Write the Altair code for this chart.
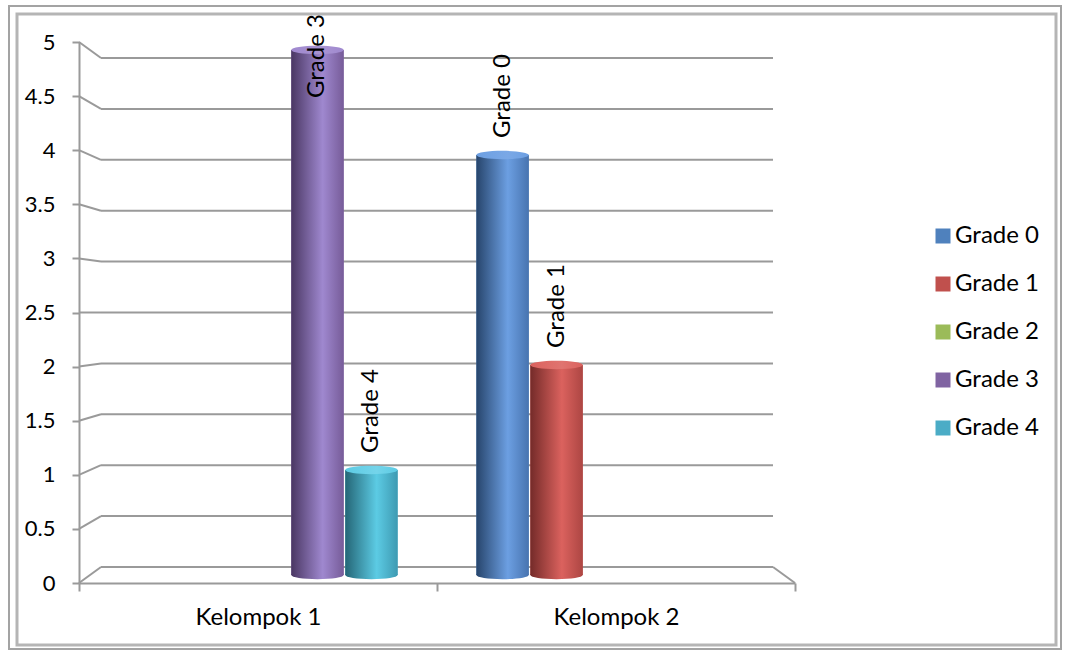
import altair as alt
import pandas as pd

# ---- data -------------------------------------------------------------
CATEGORIES = ["Kelompok 1", "Kelompok 2"]
GRADES = ["Grade 0", "Grade 1", "Grade 2", "Grade 3", "Grade 4"]
# one list per series, one entry per category (None = empty cell)
GRADE_0 = [None, 4]
GRADE_1 = [None, 2]
GRADE_2 = [None, None]
GRADE_3 = [5, None]
GRADE_4 = [1, None]
SERIES = [GRADE_0, GRADE_1, GRADE_2, GRADE_3, GRADE_4]
Y_TICKS = [0, 0.5, 1, 1.5, 2, 2.5, 3, 3.5, 4, 4.5, 5]

# ---- styling ----------------------------------------------------------
COLORS = ["#4F81BD", "#C0504D", "#9BBB59", "#8064A2", "#4BACC6"]
# cylinder shading per series: dark edge, light highlight, right edge, cap
SHADES = [
    ("#27456c", "#6c9fe2", "#4874b0", "#7aa8e6"),
    ("#742b29", "#db625e", "#ad4643", "#e07470"),
    ("#5b7530", "#b6d874", "#8aa84e", "#c0de84"),
    ("#4a3763", "#9f88cf", "#775c99", "#a994d2"),
    ("#256676", "#5ccbe4", "#3e9ab2", "#74d4ea"),
]
FONT = "Lato"
TEXT_SIZE = 24
GRID = "#9a9a9a"

PLOT_W, PLOT_H = 716, 541
DEPTH_X = 22                 # horizontal inset of the back wall
BACK_RANGE = [525, 16]       # back wall: pixel rows of 0 and 5
BAR_RANGE = [533, 8]         # mid depth (where the cylinders stand)
BAR_X_RANGE = [11, PLOT_W - 11]
OFF_INNER, OFF_OUTER = 0.03, 0.73
LABEL_CEIL = 4.38            # rotated labels stay inside the frame

Y_MAX = 5
front_px = PLOT_H / Y_MAX
back_lift = (PLOT_H - BACK_RANGE[0]) / front_px
back_scale = (BACK_RANGE[0] - BACK_RANGE[1]) / PLOT_H

band = (BAR_X_RANGE[1] - BAR_X_RANGE[0]) / len(CATEGORIES)
step = band / (len(GRADES) - OFF_INNER + 2 * OFF_OUTER)
BAR_W = step * (1 - OFF_INNER)
ELLIPSE = "M-1,0A1,0.16,0,1,1,1,0A1,0.16,0,1,1,-1,0Z"

rows = []
for g, vals in zip(GRADES, SERIES):
    for c, v in zip(CATEGORIES, vals):
        if v is not None:
            rows.append({"category": c, "grade": g, "value": v})
bars_df = pd.DataFrame(rows)
grid_df = pd.DataFrame({"v": Y_TICKS})
cat_df = pd.DataFrame({"category": CATEGORIES})
one = pd.DataFrame({"k": [0]})

Y_AXIS = alt.Axis(
    values=Y_TICKS, format="~g", title=None, grid=False,
    tickSize=7, tickColor=GRID, tickWidth=2,
    domainColor=GRID, domainWidth=2,
    labelFont=FONT, labelFontSize=22, labelColor="black", labelPadding=17,
)
Y_FRONT = alt.Scale(domain=[0, Y_MAX], nice=False, zero=True)

# ---- walls, floor and axes (front coordinates) ------------------------
grid_base = alt.Chart(grid_df).transform_calculate(
    vb=f"{back_lift} + datum.v * {back_scale}"
)
side = grid_base.mark_rule(color=GRID, strokeWidth=2).encode(
    x=alt.value(0), x2=alt.value(DEPTH_X),
    y=alt.Y("v:Q", scale=Y_FRONT, axis=Y_AXIS), y2="vb:Q",
)
wall = grid_base.mark_rule(color=GRID, strokeWidth=2).encode(
    x=alt.value(DEPTH_X), x2=alt.value(PLOT_W - DEPTH_X),
    y=alt.Y("vb:Q", scale=Y_FRONT, axis=Y_AXIS),
)
floor_edge = grid_base.transform_filter(alt.datum.v == 0).mark_rule(
    color=GRID, strokeWidth=2
).encode(
    x=alt.value(PLOT_W - DEPTH_X), x2=alt.value(PLOT_W),
    y=alt.Y("vb:Q", scale=Y_FRONT, axis=Y_AXIS), y2="v:Q",
)
x_axis = alt.Chart(cat_df).mark_rule(strokeOpacity=0).encode(
    x=alt.X(
        "category:N", sort=CATEGORIES,
        scale=alt.Scale(paddingInner=0, paddingOuter=0),
        axis=alt.Axis(
            title=None, labelAngle=0, tickBand="extent", tickSize=8,
            tickColor=GRID, tickWidth=2, domainColor=GRID, domainWidth=2,
            labelFont=FONT, labelFontSize=TEXT_SIZE, labelColor="black",
            labelPadding=14,
        ),
    )
)
frame_outer = alt.Chart(one).mark_rect(
    fillOpacity=0, stroke="#a3a3a3", strokeWidth=2
).encode(x=alt.value(-70), x2=alt.value(982), y=alt.value(-36), y2=alt.value(607))
frame_inner = alt.Chart(one).mark_rect(
    fillOpacity=0, stroke="#b5b5b5", strokeWidth=3
).encode(x=alt.value(-62), x2=alt.value(977), y=alt.value(-28), y2=alt.value(603))

front = alt.layer(frame_outer, frame_inner, side, wall, floor_edge, x_axis)

# ---- cylinders ---------------------------------------------------------
X_BAR = alt.X("category:N", sort=CATEGORIES,
              scale=alt.Scale(range=BAR_X_RANGE, paddingInner=0, paddingOuter=0),
              axis=None)
X_OFF = alt.XOffset("grade:N", sort=GRADES,
                    scale=alt.Scale(domain=GRADES, paddingInner=OFF_INNER,
                                    paddingOuter=OFF_OUTER))
Y_BAR = alt.Scale(domain=[0, Y_MAX], range=BAR_RANGE, nice=False)

base = alt.Chart(bars_df).transform_calculate(
    base="0", label_v=f"min(datum.value, {LABEL_CEIL})"
)

flat = base.mark_bar(strokeWidth=0).encode(
    x=X_BAR, xOffset=X_OFF,
    y=alt.Y("value:Q", scale=Y_BAR, axis=None), y2="base:Q",
    color=alt.Color(
        "grade:N",
        scale=alt.Scale(domain=GRADES, range=COLORS),
        legend=alt.Legend(
            orient="none", legendX=852, legendY=182, title=None,
            symbolType="square", symbolSize=225, symbolStrokeWidth=0,
            symbolOpacity=1, labelFont=FONT, labelFontSize=TEXT_SIZE,
            labelColor="black", rowPadding=24, labelOffset=0, padding=0,
        ),
    ),
)


def shade(dark, light, edge):
    return alt.Gradient(
        gradient="linear", x1=0, x2=1, y1=0, y2=0,
        stops=[
            alt.GradientStop(offset=0, color=dark),
            alt.GradientStop(offset=0.6, color=light),
            alt.GradientStop(offset=1, color=edge),
        ],
    )


layers = [flat]
for g, (dark, light, edge, cap) in zip(GRADES, SHADES):
    sub = base.transform_filter(alt.datum.grade == g)
    body_fill = shade(dark, light, edge)
    cap_fill = shade(light, cap, light)
    layers.append(
        sub.mark_point(shape=ELLIPSE, size=BAR_W ** 2, filled=True,
                       fill=body_fill, opacity=1, strokeWidth=0).encode(
            x=X_BAR, xOffset=X_OFF, y=alt.Y("base:Q", scale=Y_BAR, axis=None)
        )
    )
    layers.append(
        sub.mark_bar(fill=body_fill, strokeWidth=0).encode(
            x=X_BAR, xOffset=X_OFF,
            y=alt.Y("value:Q", scale=Y_BAR, axis=None), y2="base:Q",
        )
    )
    layers.append(
        sub.mark_point(shape=ELLIPSE, size=BAR_W ** 2, filled=True,
                       fill=cap_fill, opacity=1, strokeWidth=0).encode(
            x=X_BAR, xOffset=X_OFF, y=alt.Y("value:Q", scale=Y_BAR, axis=None)
        )
    )

labels = base.mark_text(
    angle=270, align="left", baseline="middle", dx=17,
    font=FONT, fontSize=TEXT_SIZE, color="black",
).encode(
    x=X_BAR, xOffset=X_OFF,
    y=alt.Y("label_v:Q", scale=Y_BAR, axis=None),
    text="grade:N",
)
layers.append(labels)

cylinders = alt.layer(*layers)

chart = (
    alt.layer(front, cylinders)
    .resolve_scale(x="independent", y="independent")
    .properties(
        width=PLOT_W, height=PLOT_H,
        autosize=alt.AutoSizeParams(type="none"),
        padding={"left": 79, "top": 42, "right": 270, "bottom": 69},
        background="white",
    )
    .configure_view(stroke=None)
)

chart.save("out.html", embed_options={"renderer": "svg", "actions": False})
